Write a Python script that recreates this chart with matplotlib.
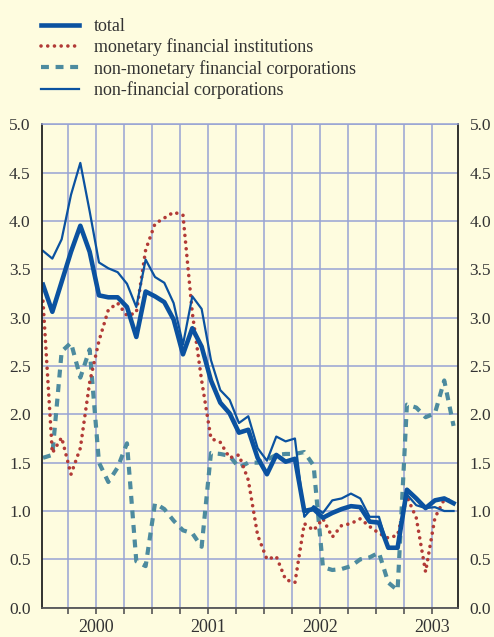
import matplotlib.pyplot as plt
import numpy as np
from matplotlib.ticker import FixedFormatter, FixedLocator, FormatStrFormatter, MultipleLocator, NullFormatter

# monthly observations, Jan 2000 .. Sep 2003
total = [3.34, 3.06, 3.37, 3.68, 3.95, 3.68, 3.23, 3.21, 3.21, 3.11,
         2.80, 3.27, 3.22, 3.16, 2.98, 2.62, 2.89, 2.70, 2.35, 2.12,
         2.01, 1.81, 1.84, 1.55, 1.38, 1.58, 1.51, 1.54, 1.00, 1.02,
         0.93, 0.98, 1.02, 1.05, 1.04, 0.89, 0.88, 0.62, 0.62, 1.22,
         1.13, 1.03, 1.11, 1.13, 1.08]
mfi = [3.17, 1.60, 1.76, 1.38, 1.65, 2.33, 2.76, 3.08, 3.15, 3.02,
       3.05, 3.70, 3.97, 4.03, 4.09, 4.06, 3.05, 2.35, 1.75, 1.71,
       1.55, 1.58, 1.32, 0.75, 0.50, 0.53, 0.29, 0.26, 0.87, 0.80,
       0.92, 0.73, 0.85, 0.87, 0.92, 0.84, 0.77, 0.72, 0.75, 1.15,
       0.93, 0.37, 0.93, 1.12, 1.11]
nmfc = [1.55, 1.58, 2.65, 2.74, 2.38, 2.67, 1.50, 1.30, 1.45, 1.70,
        0.48, 0.43, 1.08, 1.02, 0.90, 0.80, 0.77, 0.63, 1.60, 1.59,
        1.57, 1.45, 1.50, 1.50, 1.53, 1.58, 1.59, 1.59, 1.61, 1.47,
        0.42, 0.39, 0.40, 0.43, 0.50, 0.52, 0.57, 0.26, 0.18, 2.10,
        2.07, 1.97, 2.01, 2.35, 1.88]
nfc = [3.69, 3.61, 3.81, 4.27, 4.60, 4.10, 3.57, 3.51, 3.47, 3.35,
       3.11, 3.60, 3.42, 3.36, 3.15, 2.72, 3.22, 3.09, 2.56, 2.25,
       2.15, 1.91, 1.98, 1.65, 1.52, 1.77, 1.72, 1.75, 0.94, 1.05,
       0.98, 1.11, 1.13, 1.18, 1.13, 0.94, 0.94, 0.61, 0.61, 1.17,
       1.06, 1.03, 1.04, 1.00, 1.00]
years = ["2000", "2001", "2002", "2003"]
labels = ["total", "monetary financial institutions",
          "non-monetary financial corporations", "non-financial corporations"]

BG = "#fefcdf"
GRID = "#97a3d4"
BLUE = "#0b52a0"
RED = "#b23a36"
TEAL = "#4d8b9f"
TXT = "#333333"

plt.rcParams["font.family"] = ["Liberation Serif", "DejaVu Serif"]

fig = plt.figure(figsize=(4.94, 6.37), dpi=100, facecolor=BG)
ax = fig.add_axes([0.0844, 0.046, 0.8434, 0.759], facecolor=BG)

x = np.arange(len(total)) + 0.35

ax.plot(x, nmfc, color=TEAL, lw=3.0, linestyle=(0, (1.9, 1.6)), label=labels[2])
ax.plot(x, mfi, color=RED, lw=2.6, linestyle=(0, (0.01, 1.85)),
        dash_capstyle="round", label=labels[1])
ax.plot(x, nfc, color=BLUE, lw=1.6, label=labels[3])
ax.plot(x, total, color=BLUE, lw=3.3, label=labels[0])

ax.set_xlim(0.21, 44.86)
ax.set_ylim(0, 5)

# year labels sit on mid-year quarter lines, keep them despite the overlap
ax.xaxis.remove_overlapping_locs = False
ax.xaxis.set_major_locator(FixedLocator(np.arange(3, 45, 3)))
ax.xaxis.set_major_formatter(NullFormatter())
ax.xaxis.set_minor_locator(FixedLocator([6, 18, 30, 42]))
ax.xaxis.set_minor_formatter(FixedFormatter(years))
ax.tick_params(axis="x", which="major", direction="out", length=4, width=1.2, color="#555555")
ax.tick_params(axis="x", which="minor", length=0, pad=8, labelsize=13, labelcolor=TXT)

ax.yaxis.set_major_locator(MultipleLocator(0.5))
ax.yaxis.set_major_formatter(FormatStrFormatter("%.1f"))
ax.tick_params(axis="y", length=0, labelsize=12.5, labelcolor=TXT, pad=8,
               labelright=True)

ax.grid(True, which="major", color=GRID, lw=1.1)
ax.set_axisbelow(True)

for side in ("left", "right"):
    ax.spines[side].set_color("#222222")
    ax.spines[side].set_linewidth(1.3)
ax.spines["bottom"].set_color("#555555")
ax.spines["bottom"].set_linewidth(1.3)
ax.spines["top"].set_color(GRID)
ax.spines["top"].set_linewidth(1.1)

handles, labs = ax.get_legend_handles_labels()
order = [labs.index(l) for l in labels]
fig.legend([handles[i] for i in order], [labs[i] for i in order],
           loc="upper left", bbox_to_anchor=(0.083, 0.972), frameon=False,
           fontsize=13, handlelength=2.1, handletextpad=0.83,
           labelspacing=0.2, borderpad=0, borderaxespad=0, labelcolor=TXT)

fig.savefig("out.png", dpi=100, facecolor=BG)
